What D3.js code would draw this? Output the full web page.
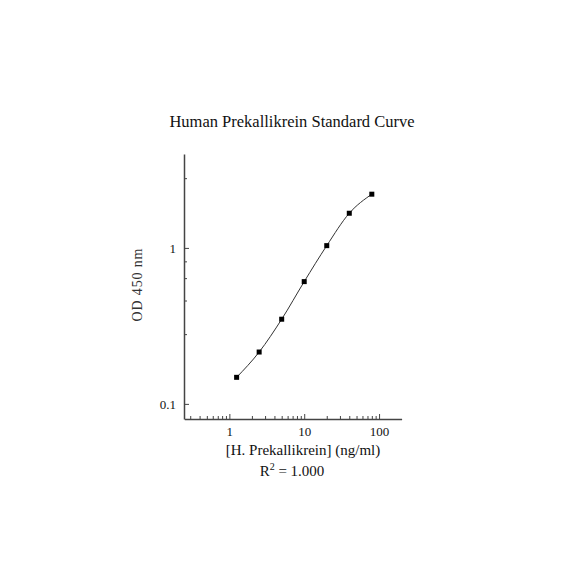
<!DOCTYPE html>
<html>
<head>
<meta charset="utf-8">
<script src="https://cdn.jsdelivr.net/npm/d3@7/dist/d3.min.js"></script>
<style>
  body { margin: 0; background: #fff; }
  text { font-family: "Liberation Serif", "Times New Roman", serif; fill: #111; }
  .axis path, .axis line { stroke: #444; }
</style>
</head>
<body>
<div class="chart"></div>
<script>
// standard curve readings
var concentrations = [1.25, 2.5, 5, 10, 20, 40, 80];
var odValues = [0.148, 0.215, 0.349, 0.608, 1.034, 1.668, 2.21];

// tick labels / tick positions
var xMajorTicks = [1, 10, 100];
var xMinorTicks = [0.3, 0.4, 0.5, 0.6, 0.7, 0.8, 0.9, 2, 3, 4, 5, 6, 7, 8, 9, 20, 30, 40, 50, 60, 70, 80, 90];
var yMajorTicks = [0.1, 1];
var yMinorTicks = [0.28, 0.46, 0.64, 0.82, 2.8];

var svgWidth = 584;
var svgHeight = 584;

var svg = d3.select(".chart")
  .append("svg")
  .attr("width", svgWidth)
  .attr("height", svgHeight);

var xScale = d3.scaleLog()
  .domain([0.25, 200])
  .range([184.3, 401.6]);

var yScale = d3.scaleLog()
  .domain([0.08, 4])
  .range([419, 154]);

var fmt = function(d) { return d >= 1 ? d3.format("d")(d) : String(d); };

// x axis
svg.append("g")
  .attr("class", "axis")
  .attr("transform", "translate(0, 419)")
  .call(d3.axisBottom(xScale).tickValues(xMinorTicks).tickSize(-3).tickFormat(""))
  .call(g => g.select(".domain").remove());

var xAxis = svg.append("g")
  .attr("class", "axis")
  .attr("transform", "translate(0, 419)")
  .call(d3.axisBottom(xScale).tickValues(xMajorTicks).tickSizeInner(-5).tickSizeOuter(0).tickPadding(8).tickFormat(fmt));
xAxis.select(".domain").attr("stroke-width", 1.5);
xAxis.selectAll("text").attr("font-size", "13px").attr("fill", "#111");

// y axis
svg.append("g")
  .attr("class", "axis")
  .attr("transform", "translate(184, 0)")
  .call(d3.axisLeft(yScale).tickValues(yMinorTicks).tickSize(-3).tickFormat(""))
  .call(g => g.select(".domain").remove());

var yAxis = svg.append("g")
  .attr("class", "axis")
  .attr("transform", "translate(184, 0)")
  .call(d3.axisLeft(yScale).tickValues(yMajorTicks).tickSizeInner(-5).tickSizeOuter(0).tickPadding(8).tickFormat(fmt));
yAxis.select(".domain").attr("stroke-width", 1.5);
yAxis.selectAll("text").attr("font-size", "13px").attr("fill", "#111");

// fitted curve
var points = concentrations.map((c, i) => [xScale(c), yScale(odValues[i])]);
svg.append("path")
  .datum(points)
  .attr("fill", "none")
  .attr("stroke", "#333")
  .attr("stroke-width", 1)
  .attr("d", d3.line().curve(d3.curveMonotoneX));

// markers
svg.selectAll("rect.pt")
  .data(points)
  .enter()
  .append("rect")
  .attr("class", "pt")
  .attr("x", d => d[0] - 2.5)
  .attr("y", d => d[1] - 2.5)
  .attr("width", 5)
  .attr("height", 5)
  .attr("fill", "#000");

// title
svg.append("text")
  .attr("x", 292)
  .attr("y", 127)
  .attr("text-anchor", "middle")
  .attr("font-size", "16.5px")
  .text("Human Prekallikrein Standard Curve");

// y label
svg.append("text")
  .attr("transform", "translate(142, 285) rotate(-90)")
  .attr("text-anchor", "middle")
  .attr("font-size", "14px")
  .attr("textLength", 73)
  .attr("lengthAdjust", "spacing")
  .style("fill", "#333")
  .text("OD 450 nm");

// x label
svg.append("text")
  .attr("x", 303)
  .attr("y", 455)
  .attr("text-anchor", "middle")
  .attr("font-size", "15px")
  .text("[H. Prekallikrein] (ng/ml)");

// R squared
var r2 = svg.append("text")
  .attr("x", 292)
  .attr("y", 476)
  .attr("text-anchor", "middle")
  .attr("font-size", "15px");
r2.append("tspan").text("R");
r2.append("tspan").attr("dy", -6).attr("font-size", "10px").text("2");
r2.append("tspan").attr("dy", 6).text(" = 1.000");
</script>
</body>
</html>
